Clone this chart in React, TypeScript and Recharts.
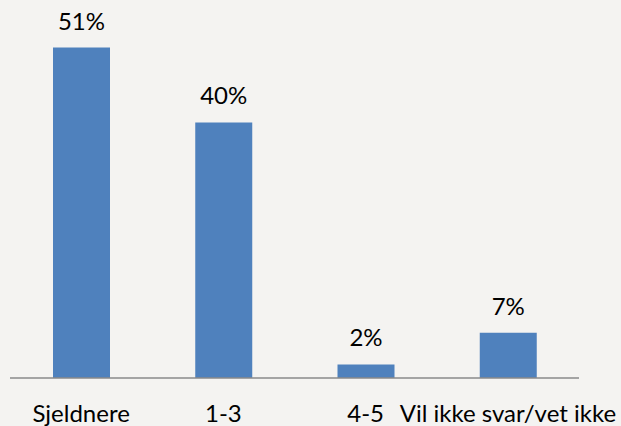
import React from 'react';
import { BarChart, Bar, XAxis, YAxis, LabelList } from 'recharts';

const categories = ['Sjeldnere', '1-3', '4-5', 'Vil ikke svar/vet ikke'];
const shares = [51.2, 39.6, 2.1, 7.0];

const data = categories.map((c, i) => ({ name: c, value: shares[i] }));

const FONT = 'Lato, "Open Sans", sans-serif';

const Tick = (props: any) => {
  const { x, y, payload } = props;
  return (
    <text x={x} y={y + 36} textAnchor="middle" fontFamily={FONT} fontSize={24} fill="#000">
      {payload.value}
    </text>
  );
};

const Label = (props: any) => {
  const { x, y, width, value } = props;
  return (
    <text x={x + width / 2} y={y - 18} textAnchor="middle" fontFamily={FONT} fontSize={24} fill="#000">
      {Math.round(value)}%
    </text>
  );
};

export default function App() {
  return (
    <div style={{ position: 'absolute', left: 0, top: 0, width: 621, height: 426, background: '#f4f3f1' }}>
      <BarChart width={621} height={426} data={data} margin={{ top: 23, right: 42, bottom: 0, left: 10 }}>
        <XAxis
          dataKey="name"
          height={48}
          axisLine={{ stroke: '#8a8a8a', strokeWidth: 1.5 }}
          tickLine={false}
          tick={<Tick />}
          interval={0}
        />
        <YAxis hide domain={[0, 55]} />
        <Bar dataKey="value" fill="#4f81bd" barSize={57} isAnimationActive={false}>
          <LabelList dataKey="value" content={<Label />} />
        </Bar>
      </BarChart>
    </div>
  );
}
